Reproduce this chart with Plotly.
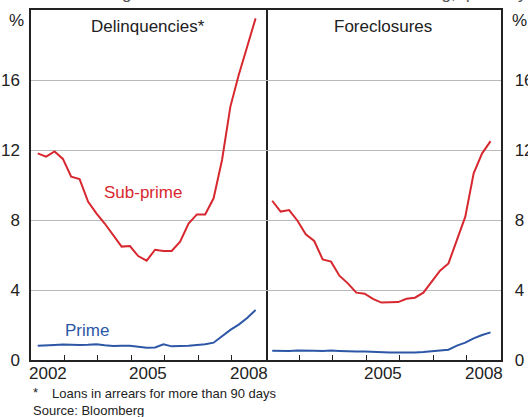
import plotly.graph_objects as go

# quarterly observations, Mar 2002 to Sep 2008
years = [2002, 2003, 2004, 2005, 2006, 2007, 2008]
quarter_months = ['03', '06', '09', '12']
dates = [f"{y}-{m}-15" for y in years for m in quarter_months][:27]

subprime_delinq = [11.81, 11.62, 11.92, 11.49, 10.47, 10.34, 9.05, 8.38, 7.80, 7.14,
                   6.48, 6.51, 5.94, 5.68, 6.30, 6.23, 6.23, 6.76, 7.80, 8.32,
                   8.32, 9.24, 11.43, 14.48, 16.29, 17.90, 19.52]
prime_delinq = [0.82, 0.82, 0.86, 0.88, 0.86, 0.86, 0.87, 0.90, 0.84, 0.80,
                0.81, 0.82, 0.76, 0.70, 0.72, 0.90, 0.78, 0.78, 0.82, 0.86,
                0.90, 0.99, 1.35, 1.72, 2.02, 2.40, 2.86]
subprime_forecl = [9.10, 8.48, 8.57, 7.96, 7.18, 6.80, 5.75, 5.62, 4.82, 4.38,
                   3.85, 3.79, 3.49, 3.28, 3.30, 3.31, 3.50, 3.56, 3.85, 4.47,
                   5.10, 5.52, 6.86, 8.19, 10.67, 11.81, 12.51]
prime_forecl = [0.53, 0.52, 0.52, 0.55, 0.56, 0.53, 0.52, 0.55, 0.52, 0.48,
                0.48, 0.48, 0.45, 0.43, 0.43, 0.43, 0.42, 0.43, 0.46, 0.52,
                0.55, 0.59, 0.82, 0.99, 1.24, 1.43, 1.58]

y_ticks = [0, 4, 8, 12, 16]
year_bounds = [f"{y}-01-01" for y in range(2003, 2009)]
left_labels = ['2002', '2005', '2008']
right_labels = ['2005', '2008']

RED = '#d7282f'
BLUE = '#2d57a6'
DARK = '#222222'
GRID = '#b9b9b9'
FONT = 'Arial, Liberation Sans, sans-serif'

W, H = 528, 417
PLOT_TOP, PLOT_BOTTOM = 10, 360


def px(x):
    return x / W


def py(y):
    return (PLOT_BOTTOM - y) / (PLOT_BOTTOM - PLOT_TOP)


fig = go.Figure()

fig.add_trace(go.Scatter(x=dates, y=subprime_delinq, mode='lines',
                         line=dict(color=RED, width=2), xaxis='x', yaxis='y'))
fig.add_trace(go.Scatter(x=dates, y=prime_delinq, mode='lines',
                         line=dict(color=BLUE, width=2), xaxis='x', yaxis='y'))
fig.add_trace(go.Scatter(x=dates, y=subprime_forecl, mode='lines',
                         line=dict(color=RED, width=2), xaxis='x2', yaxis='y2'))
fig.add_trace(go.Scatter(x=dates, y=prime_forecl, mode='lines',
                         line=dict(color=BLUE, width=2), xaxis='x2', yaxis='y2'))

# year boundaries get small inside ticks; year labels are placed mid-year below
xcommon = dict(
    type='date',
    range=['2002-01-01', '2009-01-01'],
    showline=True, linecolor=DARK, linewidth=1.5, mirror=True,
    showgrid=False, zeroline=False, automargin=False,
    tickmode='array', tickvals=year_bounds, ticktext=[''] * len(year_bounds),
    ticks='inside', ticklen=5, tickcolor=DARK, tickwidth=1,
)
ycommon = dict(
    range=[0, 20],
    tickvals=y_ticks,
    showline=True, linecolor=DARK, linewidth=1.5,
    showgrid=True, gridcolor=GRID, gridwidth=1, zeroline=False,
    automargin=False,
    ticks='', tickfont=dict(size=17, color=DARK),
)

fig.update_layout(
    width=W, height=H,
    margin=dict(l=0, r=0, t=PLOT_TOP, b=H - PLOT_BOTTOM),
    paper_bgcolor='white', plot_bgcolor='white',
    font=dict(family=FONT, color=DARK),
    showlegend=False,
    xaxis=dict(xcommon, domain=[px(31), px(265.5)], anchor='y'),
    xaxis2=dict(xcommon, domain=[px(265.5), px(500.5)], anchor='y2'),
    yaxis=dict(ycommon, anchor='x', side='left', mirror=True, ticklabelstandoff=6),
    yaxis2=dict(ycommon, anchor='x2', side='right', mirror=False, ticklabelstandoff=9),
)

annotations = [
    dict(text='Percentage of total loans in each market outstanding, quarterly',
         x=px(290), y=py(-7), font=dict(size=17, color='#555555')),
    dict(text='Delinquencies*', x=px(148), y=py(26), font=dict(size=17, color=DARK)),
    dict(text='Foreclosures', x=px(383), y=py(26), font=dict(size=17, color=DARK)),
    dict(text='Sub-prime', x=px(143), y=py(192), font=dict(size=17, color=RED)),
    dict(text='Prime', x=px(87), y=py(330), font=dict(size=17, color=BLUE)),
    dict(text='%', x=px(16), y=py(20), font=dict(size=17, color=DARK)),
    dict(text='%', x=px(519), y=py(20), font=dict(size=17, color=DARK)),
    dict(text='*', x=px(31), y=py(392), xanchor='left', font=dict(size=13, color=DARK)),
    dict(text='Loans in arrears for more than 90 days', x=px(50), y=py(393),
         xanchor='left', font=dict(size=13, color=DARK)),
    dict(text='Source: Bloomberg', x=px(31), y=py(410), xanchor='left',
         font=dict(size=13, color=DARK)),
]
for a in annotations:
    a.setdefault('xanchor', 'center')
    fig.add_annotation(xref='paper', yref='paper', showarrow=False,
                       yanchor='middle', **a)

for xref, labels in (('x', left_labels), ('x2', right_labels)):
    for lab in labels:
        fig.add_annotation(xref=xref, yref='paper', x=f"{lab}-07-01", y=py(373),
                           text=lab, showarrow=False, yanchor='middle',
                           font=dict(size=17, color=DARK))

# drop the browser's default page margin so the figure sits at the window corner
fig.write_html("out.html", config={'displayModeBar': False},
               post_script="document.body.style.margin='0';")
